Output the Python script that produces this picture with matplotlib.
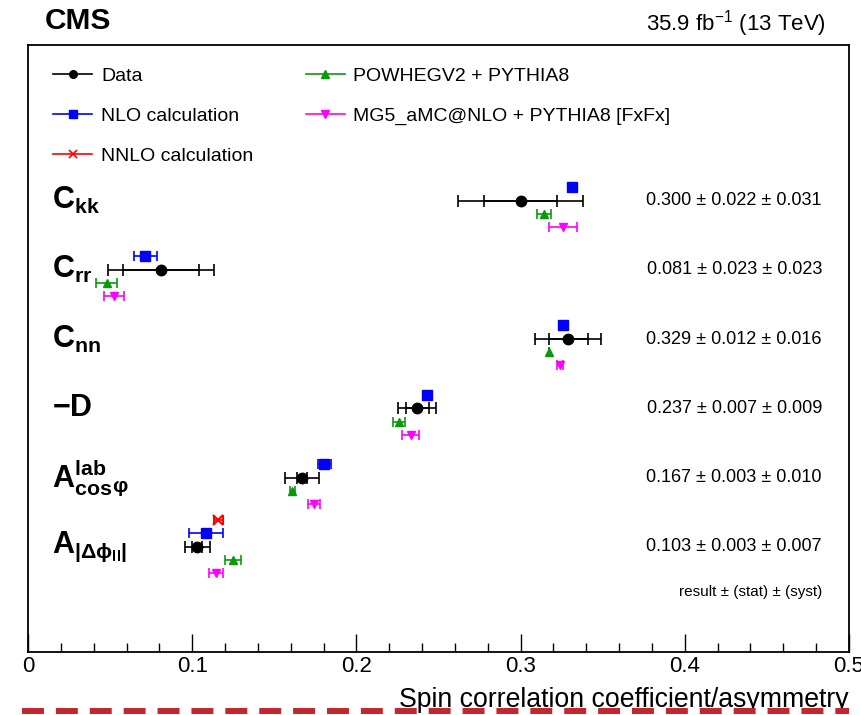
import matplotlib
matplotlib.use("Agg")
import matplotlib.pyplot as plt
from matplotlib.lines import Line2D
from matplotlib.ticker import MultipleLocator
import numpy as np

plt.rcParams["font.family"] = ["Liberation Sans", "DejaVu Sans"]
plt.rcParams["mathtext.fontset"] = "custom"
plt.rcParams["mathtext.rm"] = "Liberation Sans"
plt.rcParams["mathtext.bf"] = "Liberation Sans:bold"
plt.rcParams["mathtext.it"] = "Liberation Sans:italic"
plt.rcParams["mathtext.sf"] = "Liberation Sans"
plt.rcParams["lines.scale_dashes"] = False

# ---- measured spin-correlation observables ----
row_labels = [
    r"$\mathbf{C_{kk}}$",
    r"$\mathbf{C_{rr}}$",
    r"$\mathbf{C_{nn}}$",
    r"$\mathbf{-D}$",
    r"$\mathbf{A^{lab}_{cos}}_{\mathbf{\varphi}}$",
    r"$\mathbf{A_{|\Delta\phi_{ll}|}}$",
]
data_val = [0.300, 0.081, 0.329, 0.237, 0.167, 0.103]
data_stat = [0.022, 0.023, 0.012, 0.007, 0.003, 0.003]
data_syst = [0.031, 0.023, 0.016, 0.009, 0.010, 0.007]

# ---- predictions ----
nlo_val = [0.331, 0.0713, 0.326, 0.243, 0.1805, 0.1085]
nlo_err = [0.0, 0.007, 0.0, 0.0025, 0.004, 0.0105]

nnlo_rows = [5]
nnlo_val = [0.116]
nnlo_err = [0.003]

powheg_val = [0.314, 0.048, 0.317, 0.226, 0.161, 0.125]
powheg_err = [0.0043, 0.0064, 0.0, 0.0036, 0.0015, 0.0048]

mg5_val = [0.326, 0.0524, 0.324, 0.233, 0.1744, 0.1146]
mg5_err = [0.0085, 0.006, 0.002, 0.0052, 0.0037, 0.0042]

x_ticks = [0, 0.1, 0.2, 0.3, 0.4, 0.5]
x_title = "Spin correlation coefficient/asymmetry"

C_DATA = "black"
C_NLO = "#0000ff"
C_NNLO = "#ff0000"
C_POW = "#0a990a"
C_MG5 = "#ff00ff"

fig = plt.figure(figsize=(8.62, 7.15), dpi=100)
ax = fig.add_axes([28 / 862, 1 - 652 / 715, (849 - 28) / 862, (652 - 45) / 715])

rows = np.arange(len(data_val))
off_nnlo, off_nlo, off_pow, off_mg5 = -0.39, -0.2, 0.19, 0.38

data_tot = np.hypot(data_stat, data_syst)
ax.errorbar(data_val, rows, xerr=data_tot, fmt="none", ecolor=C_DATA,
            elinewidth=1.2, capsize=4, capthick=1.2, zorder=3)
ax.errorbar(data_val, rows, xerr=data_stat, fmt="none", ecolor=C_DATA,
            elinewidth=1.2, capsize=4, capthick=1.2, zorder=3)
ax.plot(data_val, rows, "o", color=C_DATA, ms=7.5, zorder=4)

ax.errorbar(nlo_val, rows + off_nlo, xerr=nlo_err, fmt="s", color=C_NLO,
            ms=6.5, elinewidth=1.2, capsize=3.5, capthick=1.2, zorder=3)
ax.errorbar(nnlo_val, np.array(nnlo_rows) + off_nnlo, xerr=nnlo_err, fmt="x",
            color=C_NNLO, ms=7, mew=1.5, elinewidth=1.2, capsize=3.5,
            capthick=1.2, zorder=3)
ax.errorbar(powheg_val, rows + off_pow, xerr=powheg_err, fmt="^", color=C_POW,
            ms=6, elinewidth=1.2, capsize=3.5, capthick=1.2, zorder=3)
ax.errorbar(mg5_val, rows + off_mg5, xerr=mg5_err, fmt="v", color=C_MG5,
            ms=6, elinewidth=1.2, capsize=3.5, capthick=1.2, zorder=3)

ax.set_xlim(0, 0.5)
ax.set_ylim(6.52, -2.25)
ax.set_yticks([])
ax.xaxis.set_major_locator(MultipleLocator(0.1))
ax.xaxis.set_minor_locator(MultipleLocator(0.02))
ax.set_xticks(x_ticks)
ax.set_xticklabels(["0", "0.1", "0.2", "0.3", "0.4", "0.5"])
ax.tick_params(axis="x", which="major", direction="in", length=13, width=1,
               labelsize=16, pad=3, top=False)
ax.tick_params(axis="x", which="minor", direction="in", length=6.5, width=1,
               top=False)
for sp in ax.spines.values():
    sp.set_linewidth(1.3)

# row names and quoted results
for i, (lab, v, s, y) in enumerate(zip(row_labels, data_val, data_stat, data_syst)):
    ax.text(0.029, i, lab, transform=ax.get_yaxis_transform(), ha="left",
            va="center", fontsize=22)
    ax.text(0.967, i, f"{v:.3f} ± {s:.3f} ± {y:.3f}",
            transform=ax.get_yaxis_transform(), ha="right", va="center",
            fontsize=13)
ax.text(0.967, 5.65, "result ± (stat) ± (syst)", transform=ax.get_yaxis_transform(),
        ha="right", va="center", fontsize=11)

# legend
handles = [
    Line2D([], [], color=C_DATA, marker="o", ms=5.5, lw=1.2),
    Line2D([], [], color=C_NLO, marker="s", ms=5.5, lw=1.2),
    Line2D([], [], color=C_NNLO, marker="x", ms=6, mew=1.2, lw=1.2),
    Line2D([], [], color=C_POW, marker="^", ms=5.5, lw=1.2),
    Line2D([], [], color=C_MG5, marker="v", ms=5.5, lw=1.2),
]
labels = ["Data", "NLO calculation", "NNLO calculation", "POWHEGV2 + PYTHIA8",
          "MG5_aMC@NLO + PYTHIA8 [FxFx]"]
ax.legend(handles, labels, ncol=2, loc="upper left", frameon=False,
          bbox_to_anchor=(0.031, 0.9635), borderaxespad=0, borderpad=0,
          fontsize=14, handlelength=2.0, handletextpad=0.45,
          columnspacing=2.7, labelspacing=1.15)

ax.set_xlabel(x_title, fontsize=19.2, ha="right", x=1.0, labelpad=7)

fig.text(45 / 862, 1 - 21 / 715, "CMS", fontsize=21.5, fontweight="bold",
         ha="left", va="center")
fig.text(826 / 862, 1 - 24 / 715, r"35.9 fb$^{\mathregular{-1}}$ (13 TeV)",
         fontsize=16, ha="right", va="center")

# dashed underline along the bottom edge
fig.add_artist(Line2D([22 / 862, 849 / 862], [1 - 711 / 715, 1 - 711 / 715],
                      transform=fig.transFigure, color="#c1272d", lw=4.3,
                      dashes=(15.8, 8.6), solid_capstyle="butt",
                      dash_capstyle="butt"))

fig.savefig("out.png", dpi=100)
